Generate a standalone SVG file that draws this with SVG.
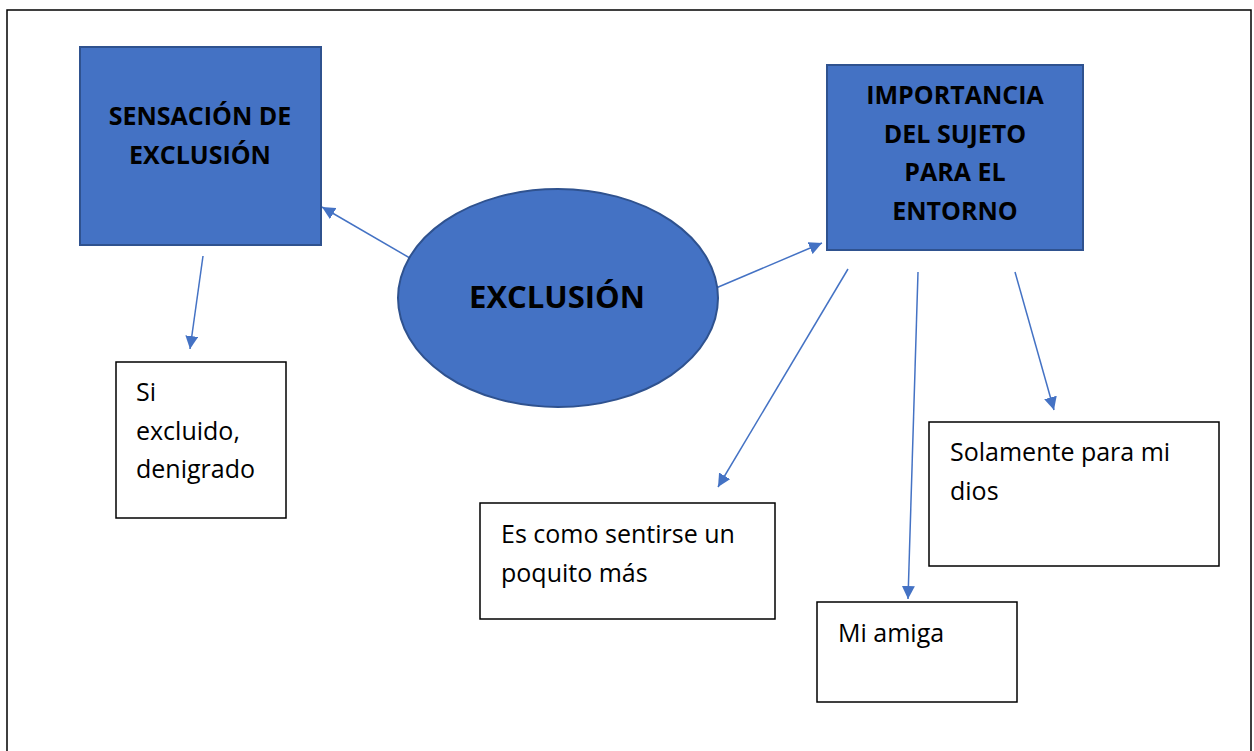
<svg xmlns="http://www.w3.org/2000/svg" width="1254" height="751" viewBox="0 0 1254 751">
<style>
.frame{fill:none;stroke:#000;stroke-width:1.5}
.blue{fill:#4472C4;stroke:#2F528F;stroke-width:2}
.box{fill:#fff;stroke:#000;stroke-width:1.5}
.hd{font-family:"Open Sans","Liberation Sans",sans-serif;font-weight:bold;font-size:25px;fill:#000;text-anchor:middle}
.big{font-family:"Open Sans","Liberation Sans",sans-serif;font-weight:bold;font-size:31px;fill:#000;text-anchor:middle}
.tx{font-family:"Open Sans","Liberation Sans",sans-serif;font-size:25px;fill:#000}
.con{stroke:#4472C4;stroke-width:1.5;fill:none;marker-end:url(#ah)}
</style>
<defs>
<marker id="ah" viewBox="0 0 10 10" refX="10" refY="5" markerWidth="13" markerHeight="13" markerUnits="userSpaceOnUse" orient="auto">
<path d="M0,0 L10,5 L0,10 z" fill="#4472C4"/>
</marker>
</defs>
<rect width="1254" height="751" fill="#fff"/>
<path class="frame" d="M7,760 L7,10 L1251,10 L1251,760"/>
<g id="connectors">
<line class="con" x1="415" y1="261" x2="322" y2="207"/>
<line class="con" x1="203" y1="256" x2="190" y2="349"/>
<line class="con" x1="716" y1="288" x2="822" y2="243"/>
<line class="con" x1="848" y1="269" x2="718" y2="487"/>
<line class="con" x1="918" y1="272" x2="908" y2="599"/>
<line class="con" x1="1015" y1="272" x2="1054" y2="410"/>
</g>
<g id="sensacion">
<rect class="blue" x="80" y="47" width="241" height="198"/>
<text class="hd" x="200" y="125">SENSACIÓN DE</text>
<text class="hd" x="200" y="164">EXCLUSIÓN</text>
</g>
<g id="importancia">
<rect class="blue" x="827" y="65" width="256" height="185"/>
<text class="hd" x="955" y="104">IMPORTANCIA</text>
<text class="hd" x="955" y="143">DEL SUJETO</text>
<text class="hd" x="955" y="181">PARA EL</text>
<text class="hd" x="955" y="220">ENTORNO</text>
</g>
<g id="exclusion">
<ellipse class="blue" cx="558" cy="298" rx="160" ry="109"/>
<text class="big" x="557" y="308">EXCLUSIÓN</text>
</g>
<g id="si-excluido">
<rect class="box" x="116" y="362" width="170" height="156"/>
<text class="tx" x="136" y="401">Si</text>
<text class="tx" x="136" y="440">excluido,</text>
<text class="tx" x="136" y="478">denigrado</text>
</g>
<g id="es-como">
<rect class="box" x="480" y="503" width="295" height="116"/>
<text class="tx" x="501" y="543">Es como sentirse un</text>
<text class="tx" x="501" y="582">poquito más</text>
</g>
<g id="solamente">
<rect class="box" x="929" y="422" width="290" height="144"/>
<text class="tx" x="950" y="461">Solamente para mi</text>
<text class="tx" x="950" y="500">dios</text>
</g>
<g id="mi-amiga">
<rect class="box" x="817" y="602" width="200" height="100"/>
<text class="tx" x="838" y="642">Mi amiga</text>
</g>
</svg>
